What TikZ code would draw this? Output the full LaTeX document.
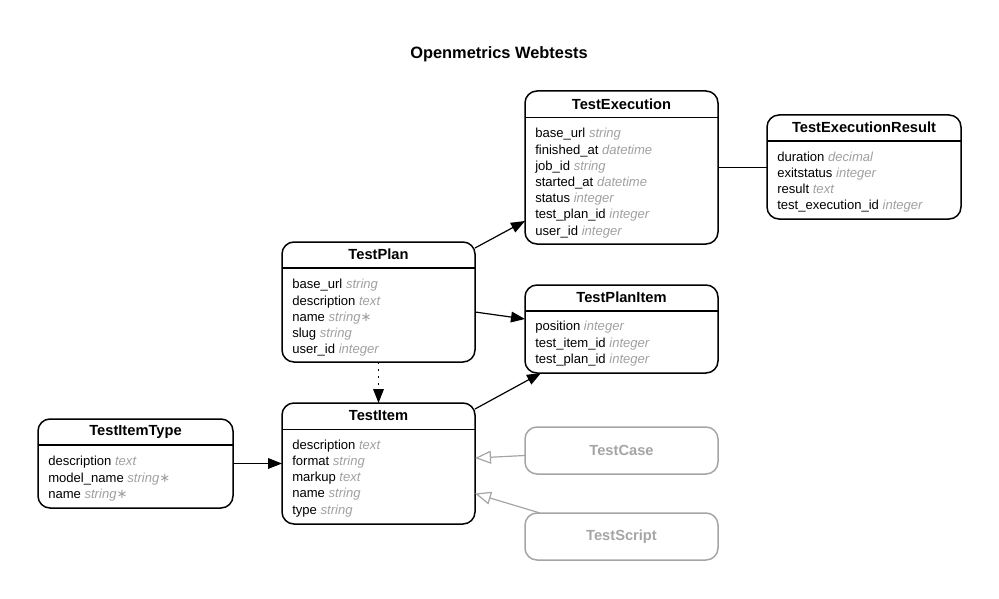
\documentclass[tikz,border=0pt]{standalone}
\usepackage{fontspec}
\setmainfont{Liberation Sans}
\newfontfamily\symfont{DejaVu Sans}
\usetikzlibrary{arrows.meta}
\newlength\px
\setlength\px{0.75pt}
\definecolor{typegray}{RGB}{160,160,160}
\definecolor{boxgray}{RGB}{165,165,165}

\tikzset{
  entity/.style={draw, line width=1.5\px, rounded corners=12\px, anchor=north west, outer sep=0pt, inner sep=0pt},
  ghost/.style={entity, draw=boxgray},
  etitle/.style={font=\fontsize{11pt}{13pt}\selectfont\bfseries, inner sep=0pt},
  field/.style={anchor=west, inner sep=0pt, text height=7.2pt, text depth=2.2pt, font=\fontsize{9.8pt}{12pt}\selectfont},
  sepline/.style={line width=1.5\px},
  rel/.style={line width=1.2\px, -{Triangle[length=10.5pt,width=8pt]}},
  isa/.style={line width=1.2\px, draw=boxgray, -{Triangle[open,length=12pt,width=9.75pt,fill=white]}},
}

\begin{document}
\begin{tikzpicture}[x=0.75pt,y=-0.75pt]
  \useasboundingbox (0,0) rectangle (999,599);

  \node[font=\fontsize{12.3pt}{14pt}\selectfont\bfseries] (title) at (499,54) {Openmetrics Webtests};

  % TestExecution
  \begin{scope}[shift={(525,91)}]
    \node[entity, minimum width=193\px, minimum height=153\px] (exec) at (0,0) {};
    \node[etitle] (exec-t) at (96.5,13) {TestExecution};
    \draw[sepline] (exec.west |- 0,26.5) -- (exec.east |- 0,26.5);
    \foreach[count=\i] \f/\t in {base\_url/string, finished\_at/datetime, job\_id/string,
        started\_at/datetime, status/integer, test\_plan\_id/integer, user\_id/integer} {
      \node[field] (exec-f\i) at (10,{43.5+(\i-1)*16.2}) {\f\ {\color{typegray}\itshape\t}};
    }
  \end{scope}

  % TestExecutionResult
  \begin{scope}[shift={(767,115)}]
    \node[entity, minimum width=194\px, minimum height=104\px] (result) at (0,0) {};
    \node[etitle] (result-t) at (97,12.5) {TestExecutionResult};
    \draw[sepline] (result.west |- 0,26) -- (result.east |- 0,26);
    \foreach[count=\i] \f/\t in {duration/decimal, exitstatus/integer, result/text,
        test\_execution\_id/integer} {
      \node[field] (result-f\i) at (10,{43+(\i-1)*16.2}) {\f\ {\color{typegray}\itshape\t}};
    }
  \end{scope}

  % TestPlan
  \begin{scope}[shift={(282,242)}]
    \node[entity, minimum width=193\px, minimum height=120\px] (plan) at (0,0) {};
    \node[etitle] (plan-t) at (96.5,12.5) {TestPlan};
    \draw[sepline] (plan.west |- 0,26) -- (plan.east |- 0,26);
    \foreach[count=\i] \f/\t in {base\_url/string, description/text, name/string{\symfont∗},
        slug/string, user\_id/integer} {
      \node[field] (plan-f\i) at (10,{43.5+(\i-1)*16.2}) {\f\ {\color{typegray}\itshape\t}};
    }
  \end{scope}

  % TestPlanItem
  \begin{scope}[shift={(525,285)}]
    \node[entity, minimum width=193\px, minimum height=88\px] (planitem) at (0,0) {};
    \node[etitle] (planitem-t) at (96.5,12.5) {TestPlanItem};
    \draw[sepline] (planitem.west |- 0,26) -- (planitem.east |- 0,26);
    \foreach[count=\i] \f/\t in {position/integer, test\_item\_id/integer, test\_plan\_id/integer} {
      \node[field] (planitem-f\i) at (10,{42.5+(\i-1)*16.2}) {\f\ {\color{typegray}\itshape\t}};
    }
  \end{scope}

  % TestItem
  \begin{scope}[shift={(282,403)}]
    \node[entity, minimum width=193\px, minimum height=121\px] (item) at (0,0) {};
    \node[etitle] (item-t) at (96.5,12.5) {TestItem};
    \draw[sepline] (item.west |- 0,26.5) -- (item.east |- 0,26.5);
    \foreach[count=\i] \f/\t in {description/text, format/string, markup/text,
        name/string, type/string} {
      \node[field] (item-f\i) at (10,{43+(\i-1)*16.2}) {\f\ {\color{typegray}\itshape\t}};
    }
  \end{scope}

  % TestItemType
  \begin{scope}[shift={(38,419)}]
    \node[entity, minimum width=195\px, minimum height=89\px] (itemtype) at (0,0) {};
    \node[etitle] (itemtype-t) at (97.5,12.5) {TestItemType};
    \draw[sepline] (itemtype.west |- 0,26) -- (itemtype.east |- 0,26);
    \foreach[count=\i] \f/\t in {description/text, model\_name/string{\symfont∗}, name/string{\symfont∗}} {
      \node[field] (itemtype-f\i) at (10,{43.5+(\i-1)*16.2}) {\f\ {\color{typegray}\itshape\t}};
    }
  \end{scope}

  % subclasses
  \node[ghost, minimum width=193\px, minimum height=47\px] (case) at (525,427) {};
  \node[etitle, text=boxgray] (case-t) at (case.center) {TestCase};
  \node[ghost, minimum width=193\px, minimum height=47\px] (script) at (525,513) {};
  \node[etitle, text=boxgray] (script-t) at (script.center) {TestScript};

  % relations
  \draw[rel] ([yshift=-4.5pt]plan.north east) -- ([yshift=17.25pt]exec.south west);
  \draw[rel] ([yshift=-7.5pt]plan.east) -- ([yshift=7.5pt]planitem.west);
  \draw[rel] ([yshift=-4.5pt]item.north east) -- ([xshift=12pt]planitem.south west);
  \draw[rel, dash pattern=on 1.5pt off 3.75pt] (plan.south) -- (item.north);
  \draw[rel] (itemtype.east) -- (item.west);
  \draw[line width=1.2\px] (exec.east) -- (exec.east -| result.west);

  % inheritance
  \draw[isa] ([yshift=-3.75pt]case.west) -- ([yshift=4.1pt]item.east);
  \draw[isa] ([xshift=11.25pt]script.north west) -- ([yshift=-22.5pt]item.east);
\end{tikzpicture}
\end{document}
